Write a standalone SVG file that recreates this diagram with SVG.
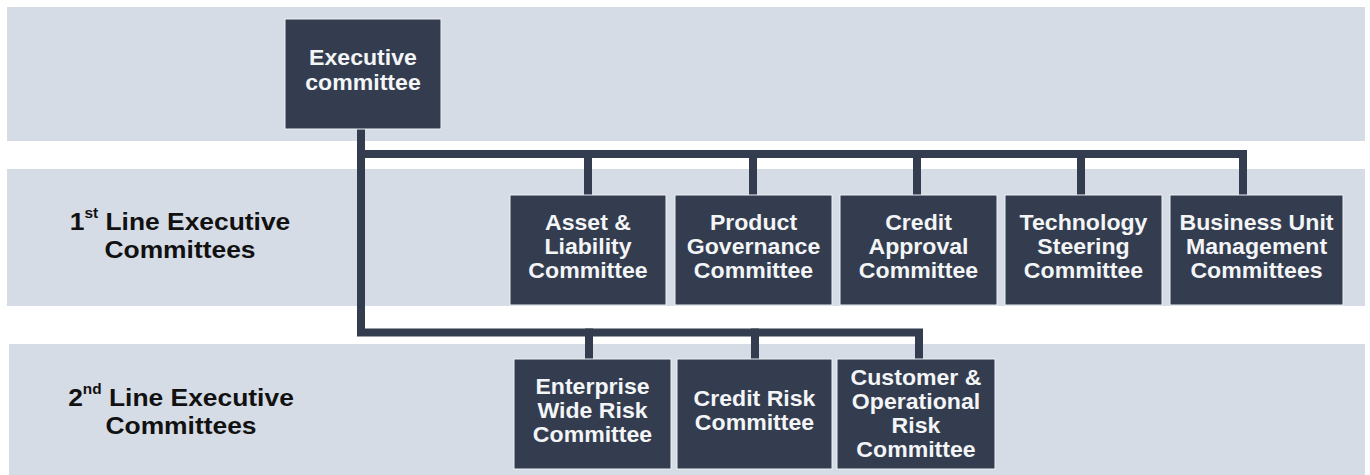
<svg xmlns="http://www.w3.org/2000/svg" width="1370" height="475" viewBox="0 0 1370 475">
  <style>
    .band { fill: #d6dce5; }
    .box { fill: #333d4f; stroke: #eef1f5; stroke-width: 1; }
    .wire { fill: none; stroke: #333d4f; stroke-width: 8; stroke-linejoin: miter; stroke-linecap: square; }
    .bt { font-family: "Liberation Sans", Arial, sans-serif; font-weight: bold; font-size: 22px; fill: #f4f5f7; text-anchor: middle; }
    .lbl { font-family: "Liberation Sans", Arial, sans-serif; font-weight: bold; font-size: 24px; fill: #111111; text-anchor: middle; }
    .sup { font-size: 14px; }
  </style>

  <!-- background bands -->
  <rect class="band" x="7" y="7" width="1358" height="134"/>
  <rect class="band" x="7" y="169" width="1358" height="137"/>
  <rect class="band" x="9" y="344" width="1356" height="131"/>

  <!-- tier labels -->
  <g id="label-1st-line">
    <text class="lbl" transform="translate(180 230) scale(1.1 1)"><tspan>1</tspan><tspan class="sup" dy="-12">st</tspan><tspan dy="12"> Line Executive</tspan><tspan x="0" dy="28">Committees</tspan></text>
  </g>
  <g id="label-2nd-line">
    <text class="lbl" transform="translate(181 406) scale(1.1 1)"><tspan>2</tspan><tspan class="sup" dy="-12">nd</tspan><tspan dy="12"> Line Executive</tspan><tspan x="0" dy="28">Committees</tspan></text>
  </g>

  <!-- connectors -->
  <g id="connectors">
    <path class="wire" d="M361 129 V332.5 H919 V359"/>
    <path class="wire" d="M361 154 H1243 V195"/>
    <path class="wire" d="M588 154 V195"/>
    <path class="wire" d="M753 154 V195"/>
    <path class="wire" d="M917 154 V195"/>
    <path class="wire" d="M1081 154 V195"/>
    <path class="wire" d="M589 332.5 V359"/>
    <path class="wire" d="M755 332.5 V359"/>
  </g>

  <!-- top level -->
  <g id="executive-committee">
    <rect class="box" x="285" y="19" width="156" height="110"/>
    <text class="bt" transform="translate(363 65) scale(1.05 1)"><tspan x="0">Executive</tspan><tspan x="0" dy="25">committee</tspan></text>
  </g>

  <!-- 1st line committees -->
  <g id="asset-liability">
    <rect class="box" x="510" y="195" width="156" height="110"/>
    <text class="bt" transform="translate(588 230) scale(1.05 1)"><tspan x="0">Asset &amp;</tspan><tspan x="0" dy="24">Liability</tspan><tspan x="0" dy="24">Committee</tspan></text>
  </g>
  <g id="product-governance">
    <rect class="box" x="675" y="195" width="157" height="110"/>
    <text class="bt" transform="translate(753.5 230) scale(1.05 1)"><tspan x="0">Product</tspan><tspan x="0" dy="24">Governance</tspan><tspan x="0" dy="24">Committee</tspan></text>
  </g>
  <g id="credit-approval">
    <rect class="box" x="840" y="195" width="157" height="110"/>
    <text class="bt" transform="translate(918.5 230) scale(1.05 1)"><tspan x="0">Credit</tspan><tspan x="0" dy="24">Approval</tspan><tspan x="0" dy="24">Committee</tspan></text>
  </g>
  <g id="technology-steering">
    <rect class="box" x="1005" y="195" width="157" height="110"/>
    <text class="bt" transform="translate(1083.5 230) scale(1.05 1)"><tspan x="0">Technology</tspan><tspan x="0" dy="24">Steering</tspan><tspan x="0" dy="24">Committee</tspan></text>
  </g>
  <g id="business-unit-management">
    <rect class="box" x="1170" y="195" width="173" height="110"/>
    <text class="bt" transform="translate(1256.5 230) scale(1.05 1)"><tspan x="0">Business Unit</tspan><tspan x="0" dy="24">Management</tspan><tspan x="0" dy="24">Committees</tspan></text>
  </g>

  <!-- 2nd line committees -->
  <g id="enterprise-wide-risk">
    <rect class="box" x="514" y="359" width="157" height="110"/>
    <text class="bt" transform="translate(592.5 394) scale(1.05 1)"><tspan x="0">Enterprise</tspan><tspan x="0" dy="24">Wide Risk</tspan><tspan x="0" dy="24">Committee</tspan></text>
  </g>
  <g id="credit-risk">
    <rect class="box" x="677" y="359" width="155" height="110"/>
    <text class="bt" transform="translate(754.5 406) scale(1.05 1)"><tspan x="0">Credit Risk</tspan><tspan x="0" dy="24">Committee</tspan></text>
  </g>
  <g id="customer-operational-risk">
    <rect class="box" x="837" y="359" width="158" height="110"/>
    <text class="bt" transform="translate(916 385) scale(1.05 1)"><tspan x="0">Customer &amp;</tspan><tspan x="0" dy="24">Operational</tspan><tspan x="0" dy="24">Risk</tspan><tspan x="0" dy="24">Committee</tspan></text>
  </g>
</svg>
